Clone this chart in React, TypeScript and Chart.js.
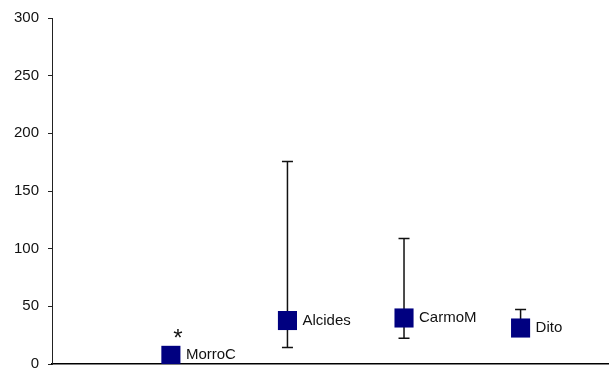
import React, { useEffect, useRef } from "react";
import { Chart, registerables } from "chart.js";

Chart.register(...registerables);

// Sites along the horizontal axis and their positions
const sites = ["MorroC", "Alcides", "CarmoM", "Dito"];
const sitePositions = [1, 2, 3, 4];

// Central values and the ends of each site's range (null = no whisker)
const centralValues = [7.5, 37.7, 39.9, 31.2];
const upperValues: (number | null)[] = [null, 175.6, 108.9, 47.3];
const lowerValues: (number | null)[] = [null, 14.4, 22.3, null];

// Significance marks drawn above the markers
const marks = ["*", "", "", ""];

// Vertical axis
const yTicks = [0, 50, 100, 150, 200, 250, 300];

const NAVY = "#000080";
const FONT = "Liberation Sans, Arial, sans-serif";

const rangePlugin = {
  id: "ranges",
  beforeDatasetsDraw(chart: any) {
    const { ctx, scales } = chart;
    const xs = scales.x;
    const ys = scales.y;
    ctx.save();
    ctx.strokeStyle = "#111";
    ctx.lineWidth = 1.5;
    sitePositions.forEach((pos, i) => {
      const px = xs.getPixelForValue(pos);
      const mid = ys.getPixelForValue(centralValues[i]);
      const cap = 5.5;
      [upperValues[i], lowerValues[i]].forEach((end) => {
        if (end === null) return;
        const py = ys.getPixelForValue(end);
        ctx.beginPath();
        ctx.moveTo(px, mid);
        ctx.lineTo(px, py);
        ctx.moveTo(px - cap, py);
        ctx.lineTo(px + cap, py);
        ctx.stroke();
      });
    });
    ctx.restore();
  },
  afterDatasetsDraw(chart: any) {
    const { ctx, scales } = chart;
    const xs = scales.x;
    const ys = scales.y;
    ctx.save();
    ctx.fillStyle = "#111";
    sitePositions.forEach((pos, i) => {
      const px = xs.getPixelForValue(pos);
      const py = ys.getPixelForValue(centralValues[i]);
      ctx.font = `15px ${FONT}`;
      ctx.textAlign = "left";
      ctx.textBaseline = "middle";
      ctx.fillText(sites[i], px + 15, py);
      if (marks[i]) {
        ctx.font = `24px ${FONT}`;
        ctx.textAlign = "center";
        ctx.textBaseline = "middle";
        ctx.fillText(marks[i], px + 7, py - 16);
      }
    });
    ctx.restore();
  },
};

export default function App() {
  const canvasRef = useRef<HTMLCanvasElement | null>(null);

  useEffect(() => {
    const canvas = canvasRef.current;
    if (!canvas) return;
    const chart = new Chart(canvas, {
      type: "scatter",
      data: {
        datasets: [
          {
            data: sitePositions.map((x, i) => ({ x, y: centralValues[i] })),
            backgroundColor: NAVY,
            borderColor: NAVY,
            borderWidth: 0,
            pointStyle: "rect",
            pointRadius: 13.5,
            pointHoverRadius: 13.5,
          },
        ],
      },
      options: {
        responsive: false,
        animation: false,
        devicePixelRatio: 1,
        events: [],
        layout: { autoPadding: false, padding: { left: 0, right: 8, top: 16, bottom: 18 } },
        plugins: {
          legend: { display: false },
          tooltip: { enabled: false },
        },
        scales: {
          x: {
            type: "linear",
            min: -0.02,
            max: 4.75,
            ticks: { display: false },
            grid: { display: false },
            border: { display: true, color: "#000", width: 1.5 },
            afterFit: (s: any) => {
              s.height = 0;
            },
          },
          y: {
            type: "linear",
            min: 0,
            max: 300,
            afterBuildTicks: (s: any) => {
              s.ticks = yTicks.map((v) => ({ value: v }));
            },
            ticks: {
              color: "#111",
              font: { family: FONT, size: 15 },
              padding: 9,
            },
            grid: {
              drawOnChartArea: false,
              drawTicks: true,
              tickLength: 4,
              color: "#222",
            },
            border: { display: true, color: "#222", width: 1 },
            afterFit: (s: any) => {
              s.width = 52;
            },
          },
        },
      },
      plugins: [rangePlugin],
    });
    return () => chart.destroy();
  }, []);

  return (
    <div style={{ position: "absolute", left: 0, top: 0, width: 616, height: 382, background: "#fff" }}>
      <canvas ref={canvasRef} width={616} height={382} />
    </div>
  );
}
